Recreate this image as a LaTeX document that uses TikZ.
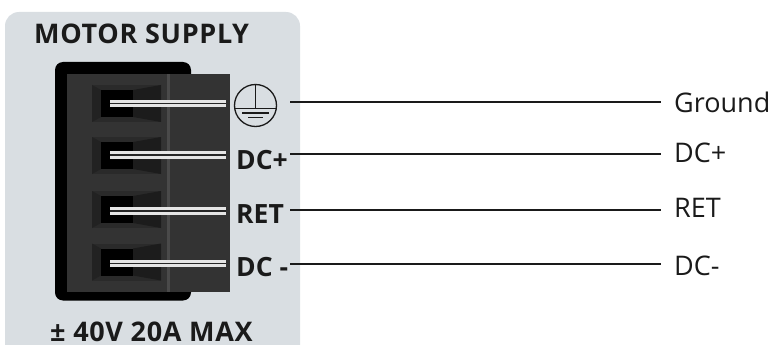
\documentclass[tikz,border=0pt]{standalone}
\usepackage{fontspec}
\setmainfont{Open Sans}
\definecolor{panelc}{HTML}{D9DEE2}
\definecolor{bodyc}{HTML}{333333}
\definecolor{cellc}{HTML}{2A2A2A}
\definecolor{cellr}{HTML}{1C1C1C}
\definecolor{celll}{HTML}{222222}
\definecolor{divc}{HTML}{4A4A4A}
\definecolor{linec}{HTML}{1A1A1A}
\tikzset{
  panellabel/.style={inner sep=0pt,anchor=base west,font=\fontsize{27}{27}\selectfont\bfseries\addfontfeature{LetterSpace=2.5},text=linec},
  pinlabel/.style={inner sep=0pt,anchor=base west,font=\fontsize{26.5}{27}\selectfont\bfseries,text=linec},
  sidelabel/.style={inner sep=0pt,anchor=west,font=\fontsize{27}{27}\selectfont,text=linec},
  wire/.style={draw=linec,line width=2.4pt},
  gnd/.style={draw=linec,line width=1.3pt}
}
\begin{document}
\begin{tikzpicture}[x=1pt,y=-1pt]
\useasboundingbox (0,0) rectangle (772,345);
\begin{scope}
\clip (0,0) rectangle (772,345);
\fill[panelc,rounded corners=14pt] (5,12) rectangle (300,360);
\end{scope}
\fill[black,rounded corners=8pt] (55,62) rectangle (191,300.5);
\fill[bodyc] (67,74) rectangle (230,292);
\fill[divc] (166.5,74) rectangle (170,292);
\foreach \c/\p in {103.5/0,155.5/-0.5,209.5/1.5,262/1.5} {
  \begin{scope}[shift={(0,\c)}]
    \fill[cellc] (92,-18.5) rectangle (161,18.5);
    \fill[celll] (92,-18.5) -- (101,-13.5) -- (101,13.5) -- (92,18.5) -- cycle;
    \fill[cellr] (133,-13.5) -- (161,-18.5) -- (161,18.5) -- (133,13.5) -- cycle;
    \fill[black] (101,-13.5) rectangle (133,13.5);
    \fill[white!90!black] (110,\p-3.8) rectangle (226,\p+3.8);
    \fill[black!85] (110,\p-0.9) rectangle (226,\p+0.9);
  \end{scope}
}
\node[panellabel] (title) at (34,44) {MOTOR SUPPLY};
\node[panellabel] (spec) at (50,341) {± 40V 20A MAX};
\node[pinlabel] (pdcp) at (236,169) {DC+};
\node[pinlabel] (pret) at (236,223) {RET};
\node[pinlabel] (pdcm) at (236,276) {DC -};
\node[draw=linec,line width=1.3pt,circle,minimum size=42pt,inner sep=0pt] (pgnd) at (255.5,105.5) {};
\draw[gnd] (pgnd.north) -- (255.5,108.5);
\draw[gnd] (234.5,108.5) -- (276.5,108.5);
\draw[gnd] (242,113) -- (269,113);
\draw[gnd] (248,117.5) -- (263,117.5);
\node[sidelabel] (lg) at (674,102) {Ground};
\node[sidelabel] (ldp) at (674,153) {DC+};
\node[sidelabel] (lr) at (674,208) {RET};
\node[sidelabel] (ldm) at (674,266) {DC-};
\coordinate (sg) at (290,102);
\coordinate (sdp) at (290,154);
\coordinate (sr) at (290,210);
\coordinate (sdm) at (290,264);
\coordinate (eg) at (661,102);
\coordinate (edp) at (661,154);
\coordinate (er) at (661,210);
\coordinate (edm) at (661,264);
\draw[wire] (sg) -- (eg);
\draw[wire] (sdp) -- (edp);
\draw[wire] (sr) -- (er);
\draw[wire] (sdm) -- (edm);
\end{tikzpicture}
\end{document}
